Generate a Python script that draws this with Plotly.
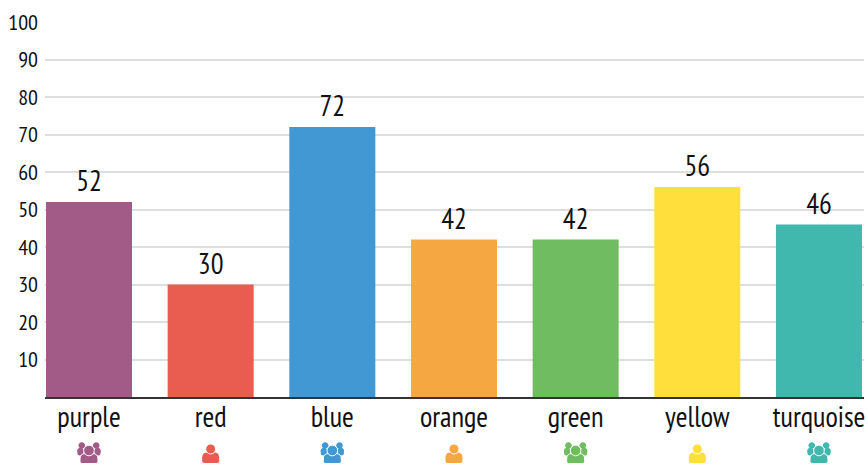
import plotly.graph_objects as go

categories = ["purple", "red", "blue", "orange", "green", "yellow", "turquoise"]
values = [52, 30, 72, 42, 42, 56, 46]
colors = ["#A25A87", "#E95D50", "#4198D2", "#F5A742", "#70BD61", "#FFDF3C", "#41B8AE"]
group_icon = [True, False, True, False, True, False, True]
y_ticks = list(range(10, 101, 10))

FONT = "Liberation Sans Narrow, PT Sans Narrow, Roboto, sans-serif"


def circle(cx, cy, r):
    k = 0.5523 * r
    return (f"M{cx - r},{cy} C{cx - r},{cy + k} {cx - k},{cy + r} {cx},{cy + r} "
            f"C{cx + k},{cy + r} {cx + r},{cy + k} {cx + r},{cy} "
            f"C{cx + r},{cy - k} {cx + k},{cy - r} {cx},{cy - r} "
            f"C{cx - k},{cy - r} {cx - r},{cy - k} {cx - r},{cy} Z")


def body(x0, x1, y_bottom, y_top, r):
    return (f"M{x0},{y_bottom + 2} L{x0},{y_top - r} Q{x0},{y_top} {x0 + r},{y_top} "
            f"L{x1 - r},{y_top} Q{x1},{y_top} {x1},{y_top - r} L{x1},{y_bottom + 2} "
            f"Q{x1},{y_bottom} {x1 - 2},{y_bottom} L{x0 + 2},{y_bottom} Q{x0},{y_bottom} {x0},{y_bottom + 2} Z")


def icon_shape(index, path, fill, outline=False):
    return dict(
        type="path", layer="above", path=path, fillcolor=fill,
        line=dict(color="white" if outline else fill, width=1 if outline else 0),
        xref="x", yref="paper", xsizemode="pixel", ysizemode="pixel",
        xanchor=categories[index], yanchor=0,
    )


def person_icon(index, fill):
    # one figure: shoulders and head
    return [
        icon_shape(index, body(-8.5, 8.5, -66, -55.5, 5), fill),
        icon_shape(index, circle(0, -52, 5), fill, True),
    ]


def group_of_people(index, fill):
    # three figures, the middle one in front
    parts = []
    for side in (-1, 1):
        parts.append(icon_shape(index, circle(side * 7.2, -48.5, 3.3), fill))
        parts.append(icon_shape(index, circle(side * 8.5, -54, 3.2), fill))
        parts.append(icon_shape(index, body(side * 8.5 - 3, side * 8.5 + 3, -58.5, -51.5, 2), fill))
    parts.append(icon_shape(index, body(-9, 9, -66.5, -56.5, 5.5), fill, True))
    parts.append(icon_shape(index, circle(0, -53.5, 5.3), fill, True))
    return parts


fig = go.Figure(
    go.Bar(
        x=categories,
        y=values,
        width=0.707,
        marker=dict(color=colors, line=dict(width=0)),
        text=[str(v) for v in values],
        textposition="outside",
        textfont=dict(family=FONT, size=28.5, color="#111111"),
        cliponaxis=False,
        hoverinfo="skip",
    )
)

shapes = []
for i, color in enumerate(colors):
    shapes += group_of_people(i, color) if group_icon[i] else person_icon(i, color)

fig.update_layout(
    width=867,
    height=466,
    margin=dict(l=45, r=3, t=22, b=68.5),
    paper_bgcolor="white",
    plot_bgcolor="white",
    showlegend=False,
    uniformtext=dict(mode=False),
    shapes=shapes,
    xaxis=dict(
        type="category",
        categoryorder="array",
        categoryarray=categories,
        range=[-0.3616, 6.37],
        showgrid=False,
        showline=True,
        linecolor="#333333",
        linewidth=2,
        ticks="",
        ticklabelstandoff=-6,
        tickfont=dict(family=FONT, size=28.5, color="#111111"),
    ),
    yaxis=dict(
        range=[0, 100],
        tickvals=y_ticks,
        showgrid=True,
        gridcolor="#DEDEDE",
        gridwidth=2,
        zeroline=False,
        showline=False,
        ticks="",
        ticklabelstandoff=6,
        tickfont=dict(family=FONT, size=22, color="#111111"),
    ),
)

fig.write_html("out.html", config=dict(displayModeBar=False))
